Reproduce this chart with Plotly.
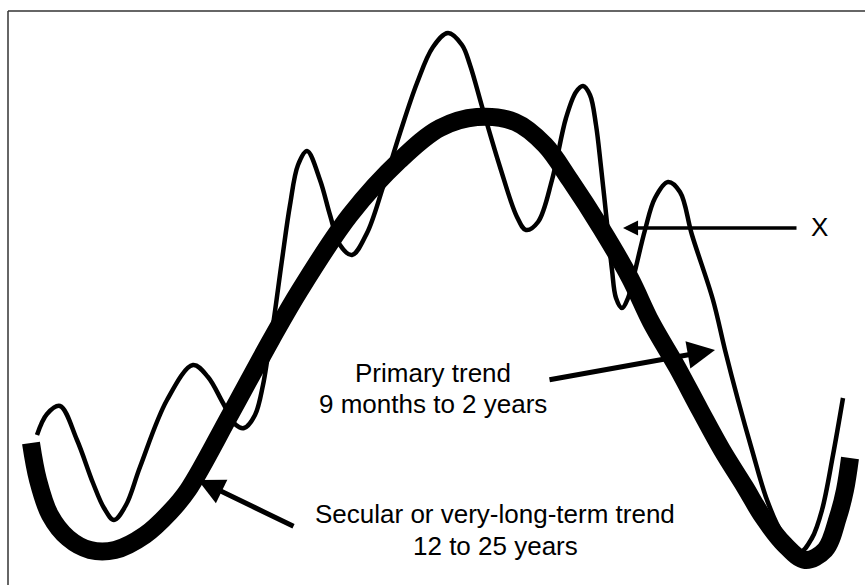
import plotly.graph_objects as go

# Secular (very-long-term) trend: time vs. level
secular_t = [31, 38, 50, 68, 90, 115, 145, 170, 188, 230, 271, 300, 350, 400, 440, 477,
             515, 545, 570, 601, 630, 651, 677, 700, 722, 745, 763, 785, 805, 825, 838, 845, 850]
secular_v = [142, 105, 70, 47, 35, 35, 50, 73, 95, 170, 245, 295, 370, 425, 457, 468,
             463, 440, 405, 357, 307, 263, 218, 175, 135, 98, 68, 40, 25, 35, 68, 95, 127]

# Primary trend: time vs. level
primary_t = [37, 47, 60, 77, 93, 104, 114, 126, 140, 167, 193, 208, 223, 236, 244, 255,
             263, 268, 273, 282, 290, 298, 307, 320, 330, 340, 352, 367, 383, 400, 417,
             433, 448, 462, 470, 483, 500, 517, 526, 538, 552, 566, 576, 583, 590, 596, 601,
             607, 612, 616, 622, 628, 634, 645, 655, 668, 680, 692, 713, 725, 738,
             752, 767, 782, 800, 812, 822, 833, 843]
primary_v = [150, 171, 179, 145, 102, 77, 65, 80, 118, 185, 220, 208, 182, 160, 157, 170,
             200, 230, 260, 325, 380, 420, 434, 405, 370, 340, 330, 352, 398, 452, 502,
             538, 552, 540, 520, 475, 418, 368, 355, 363, 405, 467, 493, 499, 490, 460, 418,
             362, 315, 287, 277, 287, 310, 355, 387, 403, 393, 350, 285, 235, 185,
             135, 85, 52, 33, 47, 75, 130, 187]

labels_primary = ["Primary trend", "9 months to 2 years"]
labels_secular = ["Secular or very-long-term trend", "12 to 25 years"]
label_x = "X"

FONT = dict(family="Liberation Sans, Arial, sans-serif", size=26, color="black")

fig = go.Figure()
fig.add_trace(go.Scatter(x=secular_t, y=secular_v, mode="lines",
                         line=dict(color="black", width=18, shape="spline"),
                         hoverinfo="skip", showlegend=False))
fig.add_trace(go.Scatter(x=primary_t, y=primary_v, mode="lines",
                         line=dict(color="black", width=4.5, shape="spline"),
                         hoverinfo="skip", showlegend=False))

annotations = []
for txt, yy in zip(labels_primary, [212, 181]):
    annotations.append(dict(x=433, y=yy, xref="x", yref="y", text=txt, showarrow=False,
                            font=FONT, xanchor="center", yanchor="middle"))
for txt, yy in zip(labels_secular, [71, 39]):
    annotations.append(dict(x=495, y=yy, xref="x", yref="y", text=txt, showarrow=False,
                            font=FONT, xanchor="center", yanchor="middle"))
annotations.append(dict(x=819, y=358, xref="x", yref="y", text=label_x, showarrow=False,
                        font=FONT, xanchor="center", yanchor="middle"))


def arrow(tip, tail, w, s):
    return dict(x=tip[0], y=tip[1], ax=tail[0], ay=tail[1], xref="x", yref="y",
                axref="x", ayref="y", text="", showarrow=True, arrowhead=2,
                arrowwidth=w, arrowsize=s, arrowcolor="black", standoff=0, startstandoff=0)


annotations.append(arrow((198, 105), (295, 58), 5, 1.05))
annotations.append(arrow((715, 235), (548, 205), 5, 1.1))
annotations.append(arrow((623, 357), (798, 357), 3.5, 0.86))

fig.update_layout(
    width=865, height=585,
    margin=dict(l=0, r=0, t=0, b=0),
    paper_bgcolor="white", plot_bgcolor="white",
    xaxis=dict(range=[0, 865], visible=False, fixedrange=True),
    yaxis=dict(range=[0, 585], visible=False, fixedrange=True),
    annotations=annotations,
    shapes=[
        dict(type="line", xref="x", yref="y", x0=8, x1=8, y0=-10, y1=574,
             line=dict(color="#333333", width=1.5)),
        dict(type="line", xref="x", yref="y", x0=8, x1=875, y0=574, y1=574,
             line=dict(color="#333333", width=1.5)),
    ],
)

fig.write_html("out.html", config={"displayModeBar": False})

# remove the browser's default page margin so the figure sits at the window origin
with open("out.html", "r", encoding="utf-8") as f:
    html = f.read()
html = html.replace("<body>", '<body style="margin:0;padding:0;overflow:hidden">', 1)
with open("out.html", "w", encoding="utf-8") as f:
    f.write(html)
